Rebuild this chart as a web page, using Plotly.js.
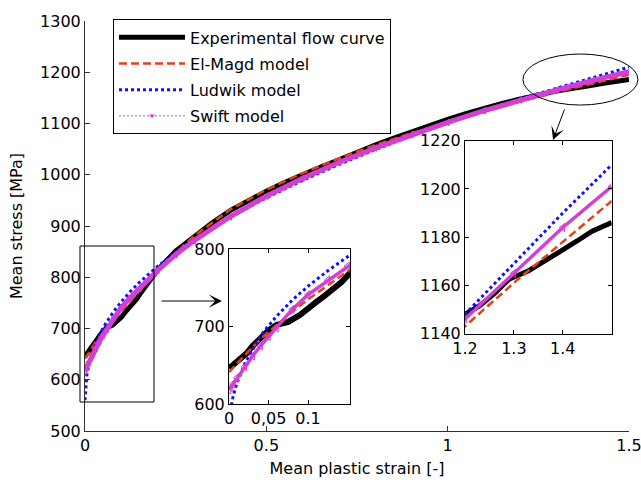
<!DOCTYPE html>
<html>
<head>
<meta charset="utf-8">
<script src="https://cdn.plot.ly/plotly-3.0.1.min.js"></script>
<style>html,body{margin:0;padding:0;background:#fff;}#chart{width:641px;height:480px;}</style>
</head>
<body>
<div id="chart"></div>
<script>
// Experimental flow curve
const strainExp = [0, 0.01, 0.022, 0.03, 0.041, 0.05, 0.06, 0.075, 0.09, 0.1, 0.111, 0.12, 0.132, 0.142, 0.153, 0.175, 0.2, 0.25, 0.3, 0.35, 0.4, 0.45, 0.5, 0.55, 0.6, 0.65, 0.7, 0.75, 0.8, 0.85, 0.9, 0.95, 1.0, 1.05, 1.1, 1.15, 1.2, 1.23, 1.26, 1.29, 1.33, 1.36, 1.39, 1.43, 1.46, 1.5];
const stressExp = [646, 655, 665, 675, 687, 695, 702, 706, 715, 722, 732, 739, 749, 757, 769, 790, 814, 851, 880, 906, 930, 950, 968, 985, 1001, 1015, 1029, 1044, 1058, 1071, 1084, 1096, 1108, 1119, 1130, 1139, 1148, 1151.5, 1156.5, 1162.5, 1166, 1170, 1173.5, 1178.5, 1182.5, 1186];

// Model curves
const strainModel  = [0, 0.002, 0.005, 0.01, 0.02, 0.03, 0.04, 0.05, 0.06, 0.08, 0.1, 0.125, 0.15, 0.2, 0.25, 0.3, 0.4, 0.5, 0.6, 0.7, 0.8, 0.9, 1.0, 1.1, 1.2, 1.3, 1.4, 1.5];
const stressElMagd = [641, 643, 647, 652, 663, 674, 684, 693, 702, 719, 735, 754, 773, 812, 848, 880, 932, 971, 1003, 1032, 1058, 1081, 1102, 1123, 1143, 1161, 1178, 1195];
const stressLudwik = [560, 592, 609, 627, 652, 671, 688, 701, 713, 734, 752, 772, 790, 821, 849, 874, 917, 955, 989, 1020, 1049, 1076, 1101, 1125, 1148, 1169, 1190, 1210];
const stressSwift  = [618, 621, 626, 634, 648, 662, 675, 687, 698, 722, 741, 760, 778, 813, 844, 871, 918, 958, 993, 1024, 1052, 1078, 1102, 1125, 1146, 1165, 1184, 1201];

const seriesNames = ['Experimental flow curve', 'El-Magd model', 'Ludwik model', 'Swift model'];

// Tick labels
const mainXTicks = [0, 0.5, 1, 1.5];
const mainXLabels = ['0', '0.5', '1', '1.5'];
const inset1XTicks = [0, 0.05, 0.1];
const inset1XLabels = ['0', '0,05', '0.1'];
const inset1YTicks = [600, 700, 800];
const inset2XTicks = [1.2, 1.3, 1.4, 1.5];
const inset2XLabels = ['1.2', '1.3', '1.4', ''];
const inset2YTicks = [1140, 1160, 1180, 1200, 1220];

const cExp = '#000000', cMagd = '#e3401c', cLud = '#1010ff', cSwift = '#d23fd2';

function series(xa, ya, expW, swiftW, mSize, legend) {
  return [
    {x: strainExp, y: stressExp, xaxis: xa, yaxis: ya, type: 'scatter', mode: 'lines',
     name: seriesNames[0], legendgroup: 'g0', showlegend: legend, line: {color: cExp, width: expW}},
    {x: strainModel, y: stressElMagd, xaxis: xa, yaxis: ya, type: 'scatter', mode: 'lines',
     name: seriesNames[1], legendgroup: 'g1', showlegend: legend, line: {color: cMagd, width: 2.5, dash: '8px,4px'}},
    {x: strainModel, y: stressLudwik, xaxis: xa, yaxis: ya, type: 'scatter', mode: 'lines',
     name: seriesNames[2], legendgroup: 'g2', showlegend: legend, line: {color: cLud, width: 3, dash: 'dot'}},
    {x: [null], y: [null], xaxis: xa, yaxis: ya, type: 'scatter', mode: 'lines+markers',
     name: seriesNames[3], legendgroup: 'g3', showlegend: legend, line: {color: cSwift, width: 1, dash: '2px,2px'},
     marker: {color: cSwift, size: 5, symbol: 'triangle-down'}},
    {x: strainModel, y: stressSwift, xaxis: xa, yaxis: ya, type: 'scatter', mode: 'lines+markers',
     name: seriesNames[3], legendgroup: 'g3', showlegend: false, line: {color: cSwift, width: swiftW},
     marker: {color: cSwift, size: mSize, symbol: 'triangle-left-open', line: {width: 1, color: cSwift}}}
  ];
}

const data = [].concat(
  series('x', 'y', 5, 5, 6, true),
  series('x2', 'y2', 6, 3.5, 7, false),
  series('x3', 'y3', 5, 3.5, 7, false)
);

const font = {family: 'DejaVu Sans, Arial, sans-serif', size: 16, color: '#000'};
const insetAxis = {showline: true, linecolor: '#000', linewidth: 1, mirror: 'ticks', ticks: 'inside',
  ticklen: 4, tickcolor: '#000', showgrid: false, zeroline: false, tickfont: font};

const layout = {
  width: 641, height: 480,
  margin: {l: 85, r: 12, t: 21, b: 49, pad: 0},
  paper_bgcolor: '#fff', plot_bgcolor: '#fff',
  font: font,
  showlegend: true,
  legend: {x: 0.0515, y: 1.004, xanchor: 'left', yanchor: 'top', bordercolor: '#000', borderwidth: 1,
    bgcolor: '#fff', itemwidth: 66, font: font, traceorder: 'grouped', tracegroupgap: 2.4},
  xaxis: {domain: [0, 1], range: [0, 1.5], tickvals: mainXTicks, ticktext: mainXLabels,
    ticks: 'inside', ticklen: 5, tickcolor: '#333', showline: true, linecolor: '#333', linewidth: 1,
    showgrid: false, zeroline: false, tickfont: font, ticklabeloverflow: 'allow',
    title: {text: 'Mean plastic strain [-]', font: font, standoff: 8}},
  yaxis: {domain: [0, 1], range: [500, 1300], dtick: 100, ticks: 'inside', ticklen: 5, tickcolor: '#333',
    showline: true, linecolor: '#333', linewidth: 1, showgrid: false, zeroline: false, tickfont: font,
    ticklabeloverflow: 'allow',
    title: {text: 'Mean stress [MPa]', font: font, standoff: 13}},
  xaxis2: Object.assign({}, insetAxis, {domain: [0.2647, 0.4871], anchor: 'y2', range: [0, 0.153],
    tickvals: inset1XTicks, ticktext: inset1XLabels}),
  yaxis2: Object.assign({}, insetAxis, {domain: [0.0659, 0.4439], anchor: 'x2', range: [600, 800],
    tickvals: inset1YTicks}),
  xaxis3: Object.assign({}, insetAxis, {domain: [0.6985, 0.9682], anchor: 'y3', range: [1.2, 1.5],
    tickvals: inset2XTicks, ticktext: inset2XLabels}),
  yaxis3: Object.assign({}, insetAxis, {domain: [0.2378, 0.708], anchor: 'x3', range: [1140, 1220],
    tickvals: inset2YTicks}),
  shapes: [
    {type: 'rect', xref: 'paper', yref: 'paper', x0: -0.0092, x1: 0.1268, y0: 0.0707, y1: 0.4512,
     line: {color: '#000', width: 1}, fillcolor: 'rgba(0,0,0,0)', layer: 'above'},
    {type: 'circle', xref: 'paper', yref: 'paper', x0: 0.805, x1: 1.0165, y0: 0.795, y1: 0.9195,
     line: {color: '#000', width: 1}, fillcolor: 'rgba(0,0,0,0)', layer: 'above'}
  ],
  annotations: [
    {xref: 'paper', yref: 'paper', x: 0.2518, y: 0.317, ax: -62, ay: 0, text: '', showarrow: true,
     arrowhead: 3, arrowsize: 2.2, arrowwidth: 1, arrowcolor: '#000'},
    {xref: 'paper', yref: 'paper', x: 0.8603, y: 0.7098, ax: 12, ay: -32, text: '', showarrow: true,
     arrowhead: 3, arrowsize: 2.2, arrowwidth: 1, arrowcolor: '#000'}
  ]
};

Plotly.newPlot('chart', data, layout, {staticPlot: true, displayModeBar: false});
</script>
</body>
</html>
